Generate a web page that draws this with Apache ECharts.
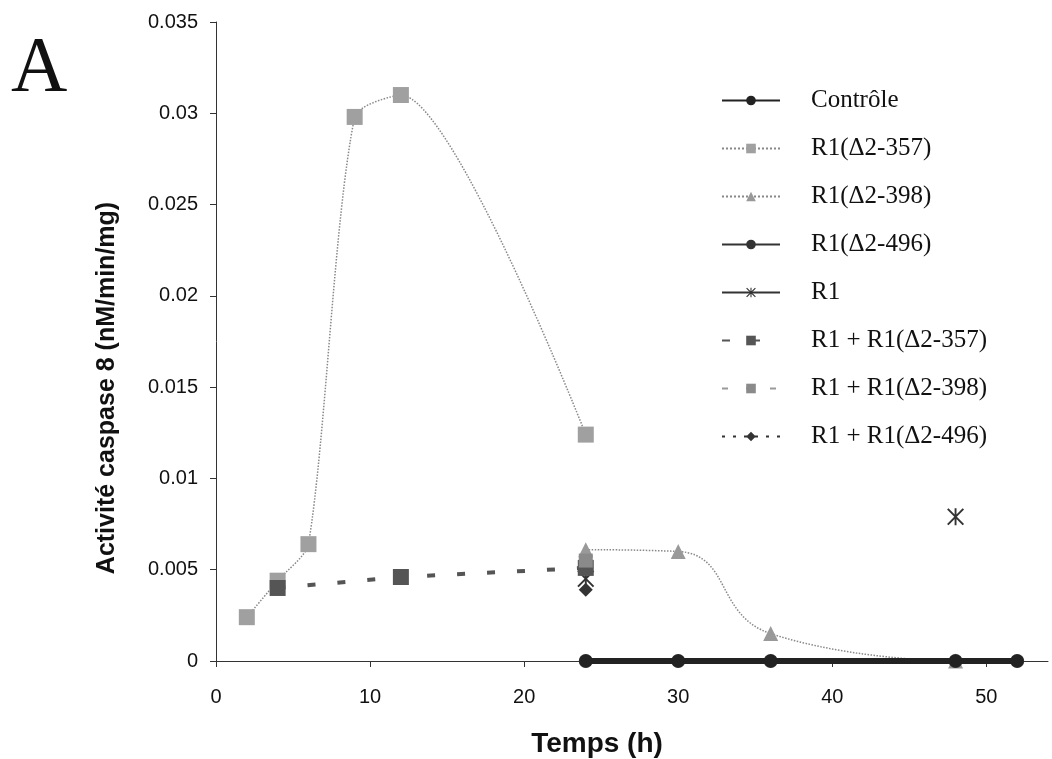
<!DOCTYPE html>
<html>
<head>
<meta charset="utf-8">
<script src="https://cdn.jsdelivr.net/npm/echarts@6/dist/echarts.min.js"></script>
<style>html,body{margin:0;padding:0;background:#fff;}#c{width:1052px;height:759px;}</style>
</head>
<body>
<div id="c"></div>
<script>
// Data (hours, activity nM/min/mg)
const xTicks = [0, 10, 20, 30, 40, 50];
const controle = [[24, 0], [30, 0], [36, 0], [48, 0], [52, 0]];
const r1d357 = [[2, 0.0024], [4, 0.0044], [6, 0.0064], [9, 0.0298], [12, 0.031], [24, 0.0124]];
const r1d398 = [[24, 0.0061], [30, 0.006], [36, 0.0015], [48, 0]];
const r1d496 = [[24, 0], [30, 0], [36, 0], [48, 0], [52, 0]];
const r1 = [[24, 0.0045], [36, '-'], [48, 0.0079]];
const r1p357 = [[4, 0.004], [12, 0.0046], [24, 0.0051]];
const r1p398 = [[24, 0.0055]];
const r1p496 = [[24, 0.0039]];

const asterisk = 'path://M-1,-10L1,-10L1,10L-1,10Z M-9,-8.5L-7.5,-10L9,8.5L7.5,10Z M7.5,-10L9,-8.5L-7.5,10L-9,8.5Z';

const chart = echarts.init(document.getElementById('c'));
chart.setOption({
  backgroundColor: '#fff',
  animation: false,
  title: {
    text: 'A', left: 6, top: 26,
    textStyle: { fontFamily: 'Liberation Serif', fontSize: 78, fontWeight: 'normal', color: '#111' }
  },
  graphic: [
    { type: 'text', x: 107, y: 388, rotation: Math.PI / 2,
      style: { text: 'Activité caspase 8 (nM/min/mg)', fontFamily: 'Liberation Sans', fontSize: 25, fontWeight: 'bold', fill: '#111', align: 'center', verticalAlign: 'middle' } },
    { type: 'text', x: 597, y: 744,
      style: { text: 'Temps (h)', fontFamily: 'Liberation Sans', fontSize: 28, fontWeight: 'bold', fill: '#111', align: 'center', verticalAlign: 'middle' } }
  ],
  grid: { left: 216, right: 4, top: 22, bottom: 98, containLabel: false },
  legend: {
    orient: 'vertical', left: 716, top: 81,
    itemWidth: 58, itemHeight: 12, itemGap: 19,
    textStyle: { fontFamily: 'Liberation Serif', fontSize: 25, color: '#111', padding: [0, 0, 0, 26], lineHeight: 29 },
    data: ['Contrôle', 'R1(Δ2-357)', 'R1(Δ2-398)', 'R1(Δ2-496)', 'R1', 'R1 + R1(Δ2-357)', 'R1 + R1(Δ2-398)', 'R1 + R1(Δ2-496)']
  },
  xAxis: {
    type: 'value', min: 0, max: 54, interval: 10,
    axisLine: { show: true, onZero: false, lineStyle: { color: '#333', width: 1 } },
    axisTick: { show: true, customValues: xTicks, length: 6, lineStyle: { color: '#333' } },
    axisLabel: { customValues: xTicks, margin: 26, fontFamily: 'Liberation Sans', fontSize: 20, color: '#111' },
    splitLine: { show: false }
  },
  yAxis: {
    type: 'value', min: 0, max: 0.035, interval: 0.005,
    axisLine: { show: true, lineStyle: { color: '#333', width: 1 } },
    axisTick: { show: true, length: 6, lineStyle: { color: '#333' } },
    axisLabel: { margin: 18, fontFamily: 'Liberation Sans', fontSize: 20, color: '#111' },
    splitLine: { show: false }
  },
  series: [
    { name: 'Contrôle', type: 'line', data: controle, symbol: 'circle', symbolSize: 13,
      lineStyle: { color: '#222', width: 6 }, itemStyle: { color: '#222' }, z: 5 },
    { name: 'R1(Δ2-357)', type: 'line', data: r1d357, smooth: 0.25, symbol: 'rect', symbolSize: 16,
      lineStyle: { color: '#888', width: 1.5, type: 'dotted' }, itemStyle: { color: '#a0a0a0' } },
    { name: 'R1(Δ2-398)', type: 'line', data: r1d398, smooth: 0.5, symbol: 'triangle', symbolSize: 15,
      lineStyle: { color: '#888', width: 1.5, type: 'dotted' }, itemStyle: { color: '#999' } },
    { name: 'R1(Δ2-496)', type: 'line', data: r1d496, symbol: 'circle', symbolSize: 14,
      lineStyle: { color: '#333', width: 6 }, itemStyle: { color: '#333' }, z: 4 },
    { name: 'R1', type: 'line', data: r1, symbol: asterisk, symbolSize: 17, connectNulls: false,
      lineStyle: { color: '#333', width: 1.5 }, itemStyle: { color: '#333' } },
    { name: 'R1 + R1(Δ2-357)', type: 'line', data: r1p357, symbol: 'rect', symbolSize: 16,
      lineStyle: { color: '#555', width: 4, type: [8, 22] }, itemStyle: { color: '#555' } },
    { name: 'R1 + R1(Δ2-398)', type: 'line', data: r1p398, symbol: 'rect', symbolSize: 14,
      lineStyle: { color: '#999', width: 4, type: [6, 18] }, itemStyle: { color: '#8a8a8a' } },
    { name: 'R1 + R1(Δ2-496)', type: 'line', data: r1p496, symbol: 'diamond', symbolSize: 14,
      lineStyle: { color: '#333', width: 2, type: [3, 8] }, itemStyle: { color: '#333' } }
  ]
});
</script>
</body>
</html>
